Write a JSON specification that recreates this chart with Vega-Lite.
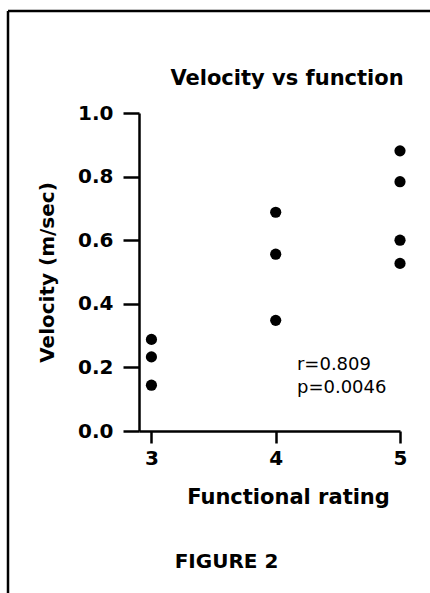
{
  "$schema": "https://vega.github.io/schema/vega-lite/v6.json",
  "autosize": {"type": "none"},
  "padding": {"left": 139, "top": 113, "right": 30, "bottom": 162},
  "width": 261,
  "height": 318,
  "background": "white",
  "config": {
    "font": "DejaVu Sans",
    "view": {"stroke": null},
    "axis": {"grid": false, "domainColor": "black", "tickColor": "black", "domainWidth": 2.5, "tickWidth": 2.5, "labelColor": "black", "titleColor": "black", "labelFont": "DejaVu Sans", "titleFont": "DejaVu Sans", "labelOverlap": false, "labelFlush": false, "labelFontWeight": "bold", "titleFontWeight": "bold", "labelFontSize": 20},
    "axisX": {"values": [3, 4, 5], "format": "d", "tickSize": 12, "labelPadding": 5, "titleFontSize": 21, "titlePadding": 18, "titleX": 149},
    "axisY": {"values": [0, 0.2, 0.4, 0.6, 0.8, 1.0], "format": ".1f", "tickSize": 16, "labelPadding": 10, "titleFontSize": 20, "titlePadding": 20}
  },
  "layer": [
    {
      "data": {
        "values": [
          {"rating": 3, "velocity": 0.288},
          {"rating": 3, "velocity": 0.233},
          {"rating": 3, "velocity": 0.144},
          {"rating": 4, "velocity": 0.688},
          {"rating": 4, "velocity": 0.556},
          {"rating": 4, "velocity": 0.348},
          {"rating": 5, "velocity": 0.881},
          {"rating": 5, "velocity": 0.784},
          {"rating": 5, "velocity": 0.600},
          {"rating": 5, "velocity": 0.527}
        ]
      },
      "mark": {"type": "point", "filled": true, "color": "black", "opacity": 1, "size": 125},
      "encoding": {
        "x": {
          "field": "rating", "type": "quantitative",
          "scale": {"domain": [2.9, 5.0], "nice": false, "zero": false},
          "axis": {"title": "Functional rating", "values": [3, 4, 5]}
        },
        "y": {
          "field": "velocity", "type": "quantitative",
          "scale": {"domain": [0, 1], "nice": false},
          "axis": {"title": "Velocity (m/sec)", "values": [0, 0.2, 0.4, 0.6, 0.8, 1.0]}
        }
      }
    },
    {
      "data": {"values": [{}]},
      "mark": {"type": "text", "align": "center", "baseline": "alphabetic", "fontSize": 21, "fontWeight": "bold", "color": "black", "clip": false},
      "encoding": {
        "x": {"datum": 4.091, "type": "quantitative"},
        "y": {"datum": 1.088, "type": "quantitative"},
        "text": {"value": "Velocity vs function"}
      }
    },
    {
      "data": {"values": [{}]},
      "mark": {"type": "text", "align": "left", "baseline": "alphabetic", "fontSize": 18, "fontWeight": "normal", "lineHeight": 23, "color": "black", "clip": false},
      "encoding": {
        "x": {"datum": 4.171, "type": "quantitative"},
        "y": {"datum": 0.192, "type": "quantitative"},
        "text": {"value": ["r=0.809", "p=0.0046"]}
      }
    },
    {
      "data": {"values": [{}]},
      "mark": {"type": "text", "align": "center", "baseline": "alphabetic", "fontSize": 20, "fontWeight": "bold", "color": "black", "clip": false},
      "encoding": {
        "x": {"datum": 3.604, "type": "quantitative"},
        "y": {"datum": -0.431, "type": "quantitative"},
        "text": {"value": "FIGURE 2"}
      }
    },
    {
      "data": {"values": [{}]},
      "mark": {"type": "rule", "color": "black", "strokeWidth": 2.5, "clip": false},
      "encoding": {
        "x": {"datum": 1.846, "type": "quantitative"},
        "x2": {"datum": 5.4},
        "y": {"datum": 1.3208, "type": "quantitative"}
      }
    },
    {
      "data": {"values": [{}]},
      "mark": {"type": "rule", "color": "black", "strokeWidth": 2.5, "clip": false},
      "encoding": {
        "x": {"datum": 1.846, "type": "quantitative"},
        "y": {"datum": 1.3208, "type": "quantitative"},
        "y2": {"datum": -0.6}
      }
    }
  ]
}
